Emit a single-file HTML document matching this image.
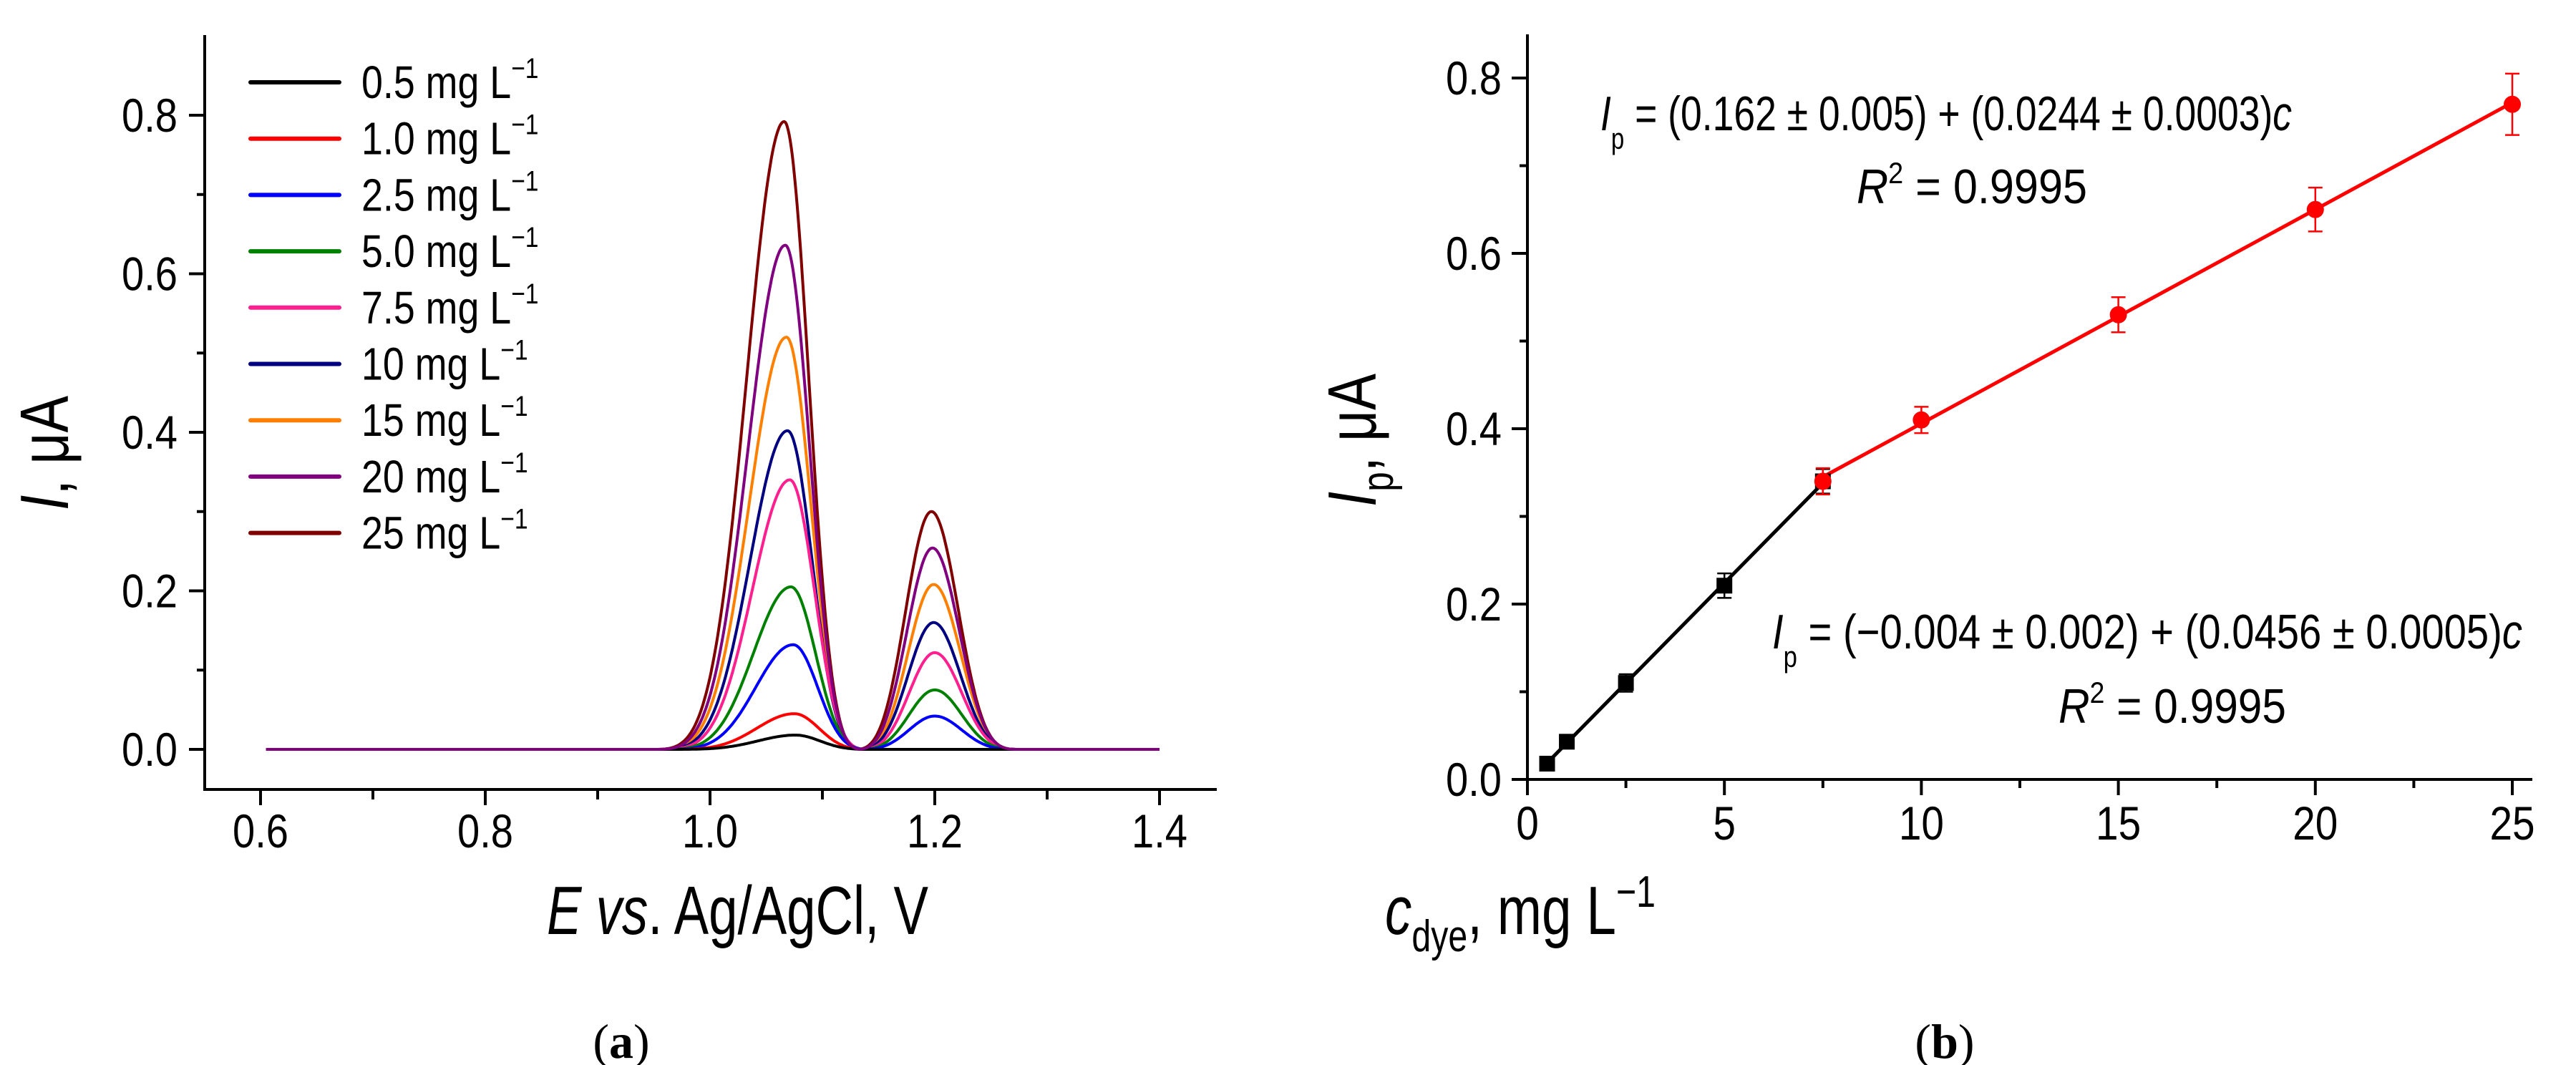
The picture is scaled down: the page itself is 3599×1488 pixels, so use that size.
<!DOCTYPE html>
<html><head><meta charset="utf-8"><style>
html,body{margin:0;padding:0;background:#fff;}
svg{display:block;font-family:"Liberation Sans",Arial,sans-serif;}
</style></head><body>
<svg id="fig" width="3599" height="1488" viewBox="0 0 3599 1488" xmlns="http://www.w3.org/2000/svg">
<g id="pa"></g>
<g id="pb"></g>
</svg>
<script>
// ---- Panel (a) data ----
const concLabels = ["0.5","1.0","2.5","5.0","7.5","10","15","20","25"];
const seriesColors = ["#000000","#ff0000","#0000ff","#008000","#ff1f8f","#000080","#ff8000","#800080","#800000"];
const peak1Heights = [0.018,0.045,0.132,0.205,0.340,0.402,0.520,0.636,0.792];
const peak1Potentials = [1.076,1.075,1.074,1.072,1.071,1.069,1.068,1.067,1.066];
const peak2Heights = [0,0,0.042,0.075,0.122,0.160,0.208,0.254,0.300];
const peak2Potentials = [1.200,1.200,1.200,1.200,1.200,1.199,1.199,1.198,1.197];
const xTicksA = [0.6,0.8,1.0,1.2,1.4];
const yTicksA = [0.0,0.2,0.4,0.6,0.8];
// ---- Panel (b) data ----
const lowConc = [0.5,1.0,2.5,5.0,7.5];
const lowCurrent = [0.018,0.043,0.110,0.221,0.340];
const lowErr = [0.006,0.006,0.010,0.014,0.014];
const highConc = [7.5,10,15,20,25];
const highCurrent = [0.340,0.410,0.530,0.650,0.770];
const highErr = [0.015,0.015,0.020,0.025,0.035];
const lowFit = [-0.004,0.0456];
const highFit = [0.162,0.0244];
const xTicksB = [0,5,10,15,20,25];
const yTicksB = [0.0,0.2,0.4,0.6,0.8];

const NS="http://www.w3.org/2000/svg";
function mk(parent,tag,attrs){const e=document.createElementNS(NS,tag);for(const k in attrs)e.setAttribute(k,attrs[k]);parent.appendChild(e);return e;}
function squeeze(el,f){const L=el.getComputedTextLength();el.setAttribute('textLength',(L*f).toFixed(1));el.setAttribute('lengthAdjust','spacingAndGlyphs');}
function fixw(el,w){el.setAttribute('textLength',w);el.setAttribute('lengthAdjust','spacingAndGlyphs');}

// ===== Panel A =====
const pa=document.getElementById('pa');
const ax={x0:286,x1:1700,y0:49,y1:1103};
const xA=v=>364+(v-0.6)*1570;
const yA=v=>1047-v*1107.5;
let e;
e=mk(pa,'path',{d:`M${ax.x0},${ax.y0} V${ax.y1} H${ax.x1}`,fill:'none',stroke:'#000','stroke-width':4});

for(let v=0.6;v<=1.4001;v+=0.1){const big=Math.abs(v*5-Math.round(v*5))<1e-6;
 e=mk(pa,'line',{x1:xA(v),x2:xA(v),y1:ax.y1,y2:ax.y1+(big?22:14),stroke:'#000','stroke-width':4});
 }
for(let v=0;v<=0.8001;v+=0.1){const big=Math.round(v*10)%2===0;
 e=mk(pa,'line',{x1:ax.x0,x2:ax.x0-(big?22:11),y1:yA(v),y2:yA(v),stroke:'#000','stroke-width':4});
 }
xTicksA.forEach(v=>{e=mk(pa,'text',{x:xA(v),y:1184,'text-anchor':'middle','font-size':66});e.textContent=v.toFixed(1);
 fixw(e,78);});
yTicksA.forEach(v=>{e=mk(pa,'text',{x:248,y:yA(v)+23,'text-anchor':'end','font-size':66});e.textContent=v.toFixed(1);
 fixw(e,78);});
e=mk(pa,'text',{x:764,y:1305,'font-size':96});
e.innerHTML='<tspan font-style="italic">E</tspan> <tspan font-style="italic">vs</tspan>. Ag/AgCl, V';
fixw(e,533);
e=mk(pa,'text',{x:0,y:0,'font-size':96,transform:'translate(95,713) rotate(-90)'});
e.innerHTML='<tspan font-style="italic">I</tspan>, μA';
fixw(e,160);
// curves
function bump(x,c,h,sl,sr,wl,wr){const left=x<c;const s=left?sl:sr,w=left?wl:wr;const d=Math.abs(x-c);if(d>=w)return 0;
 const t=d/w;const taper=(1-t*t)*(1-t*t);return h*Math.exp(-d*d/(2*s*s))*taper;}
const order=[8,6,5,4,3,2,1,0,7];
order.forEach(i=>{let d='';
 for(let k=0;k<=900;k++){const x=0.605+k*(1.4-0.605)/900;
  const v=bump(x,peak1Potentials[i],peak1Heights[i],0.040,0.028,0.115,0.068)+bump(x,peak2Potentials[i],peak2Heights[i],0.030,0.030,0.067,0.075);
  d+=(k?'L':'M')+xA(x).toFixed(1)+','+yA(v).toFixed(1);}
 e=mk(pa,'path',{d:d,fill:'none',stroke:seriesColors[i],'stroke-width':4,'stroke-linejoin':'round'});
 });
// legend
concLabels.forEach((lab,i)=>{const y=115+i*78.7;
 e=mk(pa,'line',{x1:350,x2:474,y1:y,y2:y,stroke:seriesColors[i],'stroke-width':6,'stroke-linecap':'round'});
 
 e=mk(pa,'text',{x:505,y:y+22,'font-size':64});
 e.innerHTML=lab+' mg L<tspan font-size="40" dy="-28">−1</tspan>';
 squeeze(e,0.84);});
e=mk(pa,'text',{x:868,y:1478,'text-anchor':'middle','font-size':68,'font-family':'Liberation Serif, serif'});
e.innerHTML='(<tspan font-weight="bold">a</tspan>)';


// ===== Panel B =====
const pb=document.getElementById('pb');
const bx={x0:2134,x1:3538,y0:48,y1:1089};
const xB=v=>2134+v*55.04;
const yB=v=>1089-v*1225;
e=mk(pb,'path',{d:`M${bx.x0},${bx.y0} V${bx.y1} H${bx.x1}`,fill:'none',stroke:'#000','stroke-width':4});

for(let k=0;k<=10;k++){const v=k*2.5;const big=k%2===0;
 e=mk(pb,'line',{x1:xB(v),x2:xB(v),y1:bx.y1,y2:bx.y1+(big?22:12),stroke:'#000','stroke-width':4});
 }
for(let k=0;k<=8;k++){const v=k*0.1;const big=k%2===0;
 e=mk(pb,'line',{x1:bx.x0,x2:bx.x0-(big?22:11),y1:yB(v),y2:yB(v),stroke:'#000','stroke-width':4});
 }
xTicksB.forEach(v=>{e=mk(pb,'text',{x:xB(v),y:1173,'text-anchor':'middle','font-size':66});e.textContent=v;
 squeeze(e,0.86);});
yTicksB.forEach(v=>{e=mk(pb,'text',{x:2098,y:yB(v)+23,'text-anchor':'end','font-size':66});e.textContent=v.toFixed(1);
 fixw(e,78);});
e=mk(pb,'text',{x:1935,y:1305,'font-size':96});
e.innerHTML='<tspan font-style="italic">c</tspan><tspan font-size="62" dy="24">dye</tspan><tspan dy="-24">, mg L</tspan><tspan font-size="62" dy="-38">−1</tspan>';
fixw(e,378);
e=mk(pb,'text',{x:0,y:0,'font-size':96,transform:'translate(1922,708) rotate(-90)'});
e.innerHTML='<tspan font-style="italic">I</tspan><tspan font-size="62" dy="24">p</tspan><tspan dy="-24">, μA</tspan>';
fixw(e,186);
e=mk(pb,'line',{x1:xB(lowConc[0]),y1:yB(lowFit[0]+lowFit[1]*lowConc[0]),x2:xB(lowConc[lowConc.length-1]),y2:yB(lowFit[0]+lowFit[1]*lowConc[lowConc.length-1]),stroke:'#000','stroke-width':5});

e=mk(pb,'line',{x1:xB(highConc[0]),y1:yB(highFit[0]+highFit[1]*highConc[0]),x2:xB(highConc[highConc.length-1]),y2:yB(highFit[0]+highFit[1]*highConc[highConc.length-1]),stroke:'#ff0000','stroke-width':5});

function errbar(c,v,er,col){const x=xB(c);
 e=mk(pb,'path',{d:`M${x},${yB(v+er)} V${yB(v-er)} M${x-10},${yB(v+er)} H${x+10} M${x-10},${yB(v-er)} H${x+10}`,stroke:col,'stroke-width':2.5,fill:'none'});
 }
lowConc.forEach((c,i)=>{errbar(c,lowCurrent[i],lowErr[i],'#000');
 e=mk(pb,'rect',{x:xB(c)-11,y:yB(lowCurrent[i])-11,width:22,height:22,fill:'#000'});
 });
highConc.forEach((c,i)=>{errbar(c,highCurrent[i],highErr[i],'#ff0000');
 e=mk(pb,'circle',{cx:xB(c),cy:yB(highCurrent[i]),r:12,fill:'#ff0000'});
 });
function eq(x,y,w,html,name){e=mk(pb,'text',{x:x,y:y,'font-size':68});e.innerHTML=html;
 fixw(e,w);}
eq(2236,182,966,'<tspan font-style="italic">I</tspan><tspan font-size="42" dy="26">p</tspan><tspan dy="-26"> = (0.162 ± 0.005) + (0.0244 ± 0.0003)</tspan><tspan font-style="italic">c</tspan>','equation-high');
eq(2594,284,322,'<tspan font-style="italic">R</tspan><tspan font-size="42" dy="-28">2</tspan><tspan dy="28"> = 0.9995</tspan>','r-squared-high');
eq(2476,906,1048,'<tspan font-style="italic">I</tspan><tspan font-size="42" dy="26">p</tspan><tspan dy="-26"> = (−0.004 ± 0.002) + (0.0456 ± 0.0005)</tspan><tspan font-style="italic">c</tspan>','equation-low');
eq(2876,1010,318,'<tspan font-style="italic">R</tspan><tspan font-size="42" dy="-28">2</tspan><tspan dy="28"> = 0.9995</tspan>','r-squared-low');
e=mk(pb,'text',{x:2717,y:1478,'text-anchor':'middle','font-size':68,'font-family':'Liberation Serif, serif'});
e.innerHTML='(<tspan font-weight="bold">b</tspan>)';

</script>
</body></html>
